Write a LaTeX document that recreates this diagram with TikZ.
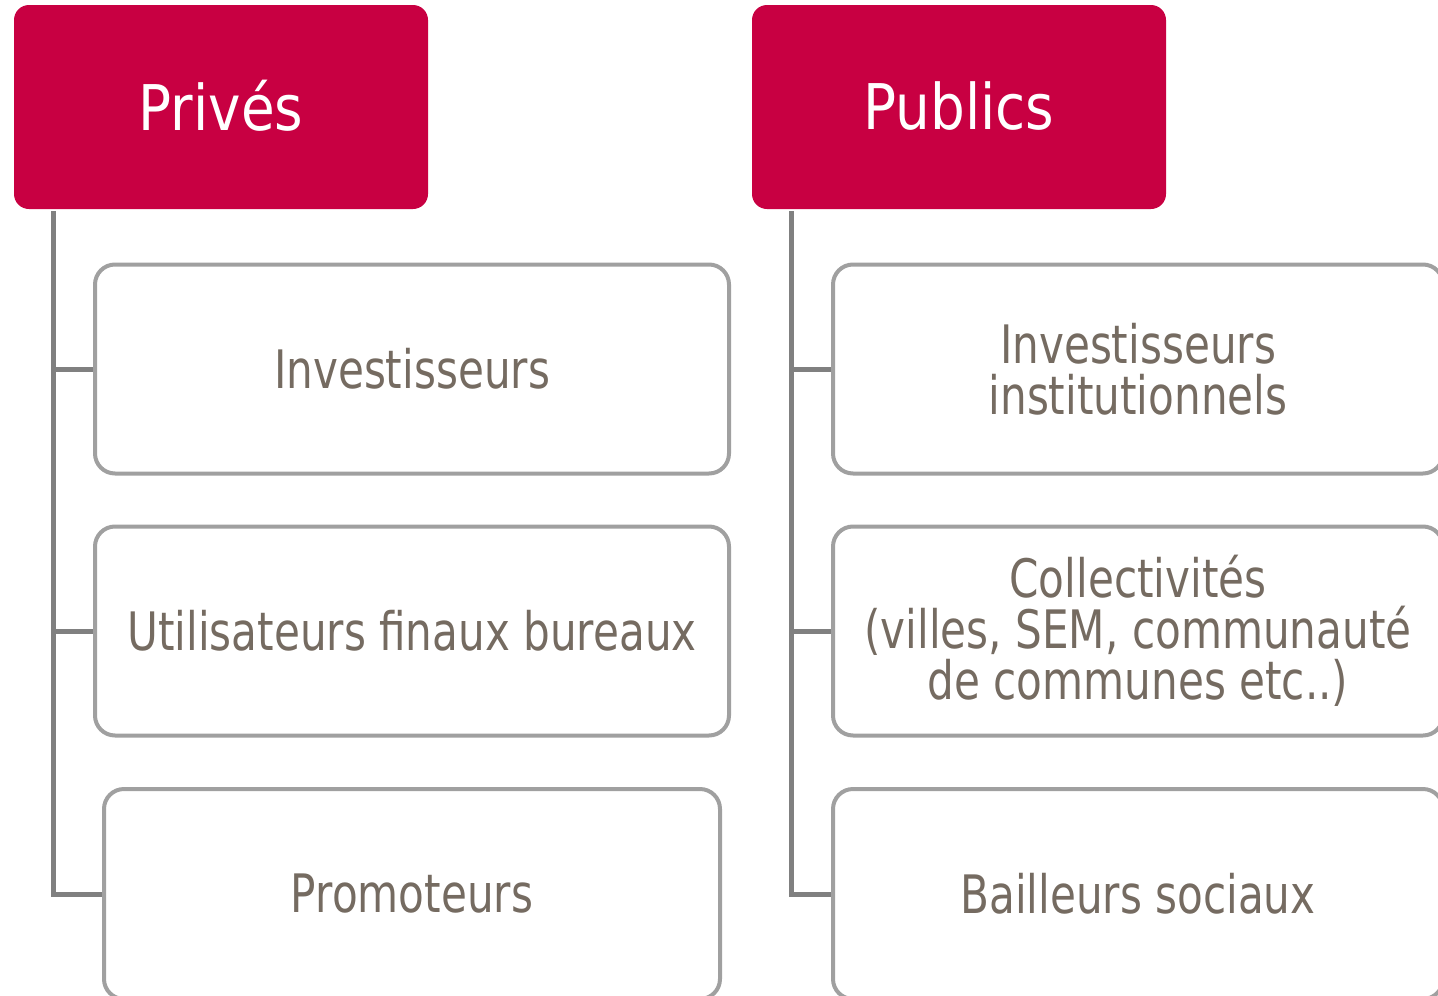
\documentclass[tikz,border=0pt]{standalone}
\usepackage{fontspec}
\setmainfont{DejaVu Sans}[FakeStretch=0.87]
\newfontfamily\childfont{DejaVu Sans}[FakeStretch=0.795]
\definecolor{hdr}{RGB}{200,0,66}
\definecolor{txt}{RGB}{117,107,97}
\definecolor{bord}{RGB}{160,160,160}
\definecolor{conn}{RGB}{128,128,128}
\tikzset{
  header/.style={fill=hdr, draw=none, rounded corners=15pt, minimum width=414pt, minimum height=204pt, inner sep=0pt, text=white, font=\fontsize{63}{70}\selectfont},
  child/.style={draw=bord, fill=white, line width=4pt, rounded corners=20pt, minimum height=209pt, inner sep=0pt, text=txt, align=center, font=\childfont\fontsize{53}{51}\selectfont},
  link/.style={draw=conn, line width=5pt}
}
\begin{document}
\begin{tikzpicture}[x=1pt,y=-1pt]
\useasboundingbox (0,0) rectangle (1438,996);
\clip (0,0) rectangle (1438,996);
% headers
\node[header] (prv) at (221,107) {\raisebox{3pt}{Privés}};
\node[header] (pub) at (959,107) {\raisebox{3pt}{Publics}};
% left children
\node[child, minimum width=634pt] (l1) at (412,369) {Investisseurs};
\node[child, minimum width=634pt] (l2) at (412,631) {Utilisateurs finaux bureaux};
\node[child, minimum width=616pt, minimum height=210pt] (l3) at (412,894) {Promoteurs};
% right children
\node[child, minimum width=610pt] (r1) at (1138,369) {Investisseurs\\institutionnels};
\node[child, minimum width=610pt] (r2) at (1138,631) {Collectivités\\(villes, SEM, communauté\\de communes etc..)};
\node[child, minimum width=610pt, minimum height=210pt] (r3) at (1138,894) {Bailleurs sociaux};
% connectors
\coordinate (lt) at (53,211);
\coordinate (rt) at (791,211);
\draw[link] (lt) |- (l3.west);
\draw[link] (lt |- l1.west) -- (l1.west);
\draw[link] (lt |- l2.west) -- (l2.west);
\draw[link] (rt) |- (r3.west);
\draw[link] (rt |- r1.west) -- (r1.west);
\draw[link] (rt |- r2.west) -- (r2.west);
\end{tikzpicture}
\end{document}
